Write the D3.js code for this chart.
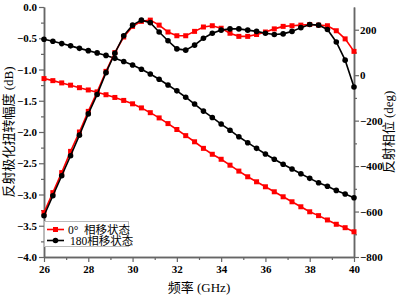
<!DOCTYPE html>
<html>
<head>
<meta charset="utf-8">
<script src="https://cdn.jsdelivr.net/npm/d3@7"></script>
<style>
  body { margin: 0; background: #fff; }
  svg { display: block; }
  .tick text { font-family: "Liberation Serif", "DejaVu Serif", serif; font-weight: bold; font-size: 11px; fill: #000; }
  .axis path, .axis line { stroke: #666; }
</style>
</head>
<body>
<div id="chart"></div>
<script>
const width = 399;
const height = 296;

// frequency points (GHz)
const freq = [26.0, 26.4, 26.8, 27.2, 27.6, 28.0, 28.4, 28.8, 29.2, 29.6, 30.0, 30.4,
  30.8, 31.2, 31.6, 32.0, 32.4, 32.8, 33.2, 33.6, 34.0, 34.4, 34.8, 35.2,
  35.6, 36.0, 36.4, 36.8, 37.2, 37.6, 38.0, 38.4, 38.8, 39.2, 39.6, 40.0];

// polarization conversion amplitude (dB), left axis
const amp0 = [-3.29, -2.97, -2.65, -2.31, -2.00, -1.67, -1.36, -1.03, -0.73, -0.48, -0.31, -0.23,
  -0.21, -0.29, -0.40, -0.46, -0.46, -0.39, -0.32, -0.30, -0.34, -0.42, -0.47, -0.47,
  -0.44, -0.40, -0.35, -0.31, -0.30, -0.29, -0.28, -0.29, -0.30, -0.38, -0.51, -0.71];
const amp180 = [-3.34, -3.02, -2.70, -2.38, -2.05, -1.71, -1.40, -1.05, -0.74, -0.46, -0.29, -0.21,
  -0.25, -0.40, -0.54, -0.67, -0.69, -0.61, -0.50, -0.42, -0.37, -0.35, -0.35, -0.37,
  -0.39, -0.42, -0.44, -0.43, -0.39, -0.33, -0.28, -0.29, -0.36, -0.56, -0.85, -1.28];

// reflection phase (deg), right axis
const phase0 = [-15, -24, -34, -44, -55, -65, -75, -86, -98, -111, -126, -144,
  -165, -188, -213, -239, -266, -293, -322, -348, -370, -396, -422, -447,
  -469, -491, -513, -535, -557, -579, -601, -618, -637, -656, -671, -689];
const phase180 = [158, 149, 139, 129, 118, 108, 98, 87, 74, 60, 45, 26,
  5, -18, -43, -69, -97, -127, -158, -186, -215, -242, -271, -297,
  -322, -347, -370, -392, -413, -434, -454, -473, -489, -507, -523, -539];

const xTicks = [26, 28, 30, 32, 34, 36, 38, 40];
const yLeftTicks = [0.0, -0.5, -1.0, -1.5, -2.0, -2.5, -3.0, -3.5, -4.0];
const yRightTicks = [200, 0, -200, -400, -600, -800];

const legendLabels = ["0°\u00a0 相移状态", "180相移状态"];

const mLeft = 44, mRight = 354, mTop = 7, mBottom = 257;

const x = d3.scaleLinear().domain([26, 40]).range([mLeft, mRight]);
const yL = d3.scaleLinear().domain([-4, 0]).range([mBottom, mTop]);
const yR = d3.scaleLinear().domain([-800, 300]).range([mBottom, mTop]);

const svg = d3.select("#chart").append("svg")
  .attr("width", width)
  .attr("height", height);

// minor ticks
const xMinor = d3.axisBottom(x).tickValues([27, 29, 31, 33, 35, 37, 39]).tickSize(3).tickFormat("").tickSizeOuter(0);
const yLMinor = d3.axisLeft(yL).tickValues([-3.75, -3.25, -2.75, -2.25, -1.75, -1.25, -0.75, -0.25]).tickSize(3).tickFormat("").tickSizeOuter(0);
const yRMinor = d3.axisRight(yR).tickValues([-700, -500, -300, -100, 100]).tickSize(3).tickFormat("").tickSizeOuter(0);

svg.append("g").attr("class", "axis").attr("transform", "translate(0," + mBottom + ")").call(xMinor);
svg.append("g").attr("class", "axis").attr("transform", "translate(" + mLeft + ",0)").call(yLMinor);
svg.append("g").attr("class", "axis").attr("transform", "translate(" + mRight + ",0)").call(yRMinor);

// major axes
const xAxis = d3.axisBottom(x).tickValues(xTicks).tickSize(5).tickSizeOuter(0).tickPadding(3);
const yLAxis = d3.axisLeft(yL).tickValues(yLeftTicks).tickSize(5).tickSizeOuter(0).tickPadding(2)
  .tickFormat(d3.format(".1f"));
const yRAxis = d3.axisRight(yR).tickValues(yRightTicks).tickSize(5).tickSizeOuter(0).tickPadding(1);

svg.append("g").attr("class", "axis").attr("transform", "translate(0," + mBottom + ")").call(xAxis);
svg.append("g").attr("class", "axis").attr("transform", "translate(" + mLeft + ",0)").call(yLAxis);
svg.append("g").attr("class", "axis").attr("transform", "translate(" + mRight + ",0)").call(yRAxis);

svg.selectAll(".axis path").attr("stroke-width", 1.5);
svg.selectAll(".axis .tick line").attr("stroke-width", 1.2);

// series
const series = [
  { vals: phase0, y: yR, color: "#ff0000", shape: "square" },
  { vals: phase180, y: yR, color: "#000000", shape: "circle" },
  { vals: amp0, y: yL, color: "#ff0000", shape: "square" },
  { vals: amp180, y: yL, color: "#000000", shape: "circle" }
];

series.forEach(s => {
  const line = d3.line().x((d, i) => x(freq[i])).y(d => s.y(d));
  svg.append("path")
    .datum(s.vals)
    .attr("fill", "none")
    .attr("stroke", s.color)
    .attr("stroke-width", 1.6)
    .attr("d", line);
  const g = svg.append("g");
  if (s.shape === "square") {
    g.selectAll("rect").data(s.vals).enter().append("rect")
      .attr("x", (d, i) => x(freq[i]) - 2.5)
      .attr("y", d => s.y(d) - 2.5)
      .attr("width", 5)
      .attr("height", 5)
      .attr("fill", s.color);
  } else {
    g.selectAll("circle").data(s.vals).enter().append("circle")
      .attr("cx", (d, i) => x(freq[i]))
      .attr("cy", d => s.y(d))
      .attr("r", 2.8)
      .attr("fill", s.color);
  }
});

// legend
const lg = svg.append("g");
lg.append("rect")
  .attr("x", 44.5).attr("y", 221.5)
  .attr("width", 84).attr("height", 25)
  .attr("fill", "#fff")
  .attr("stroke", "#bbb")
  .attr("stroke-width", 1);

legendLabels.forEach((lab, i) => {
  const yy = 229.5 + i * 11;
  const col = i === 0 ? "#ff0000" : "#000000";
  lg.append("line").attr("x1", 47).attr("x2", 64).attr("y1", yy).attr("y2", yy)
    .attr("stroke", col).attr("stroke-width", 1.6);
  if (i === 0) {
    lg.append("rect").attr("x", 53).attr("y", yy - 2.5).attr("width", 5).attr("height", 5).attr("fill", col);
  } else {
    lg.append("circle").attr("cx", 55.5).attr("cy", yy).attr("r", 2.8).attr("fill", col);
  }
  lg.append("text")
    .attr("x", i === 0 ? 68 : 70)
    .attr("y", yy + 4)
    .attr("font-family", "'Liberation Serif', 'Noto Sans CJK SC', serif")
    .attr("font-size", "11.5px")
    .attr("fill", "#000")
    .text(lab);
});

// axis titles
svg.append("text")
  .attr("transform", "translate(13," + ((mTop + mBottom) / 2) + ") rotate(-90)")
  .attr("text-anchor", "middle")
  .attr("font-family", "'Liberation Serif', 'Noto Sans CJK SC', serif")
  .attr("font-size", "13px")
  .text("反射极化扭转幅度 (dB)");

svg.append("text")
  .attr("transform", "translate(393," + ((mTop + mBottom) / 2) + ") rotate(-90)")
  .attr("text-anchor", "middle")
  .attr("font-family", "'Liberation Serif', 'Noto Sans CJK SC', serif")
  .attr("font-size", "13px")
  .text("反射相位 (deg)");

svg.append("text")
  .attr("x", 199)
  .attr("y", 292)
  .attr("text-anchor", "middle")
  .attr("font-family", "'Liberation Serif', 'Noto Sans CJK SC', serif")
  .attr("font-size", "13px")
  .text("频率 (GHz)");
</script>
</body>
</html>
